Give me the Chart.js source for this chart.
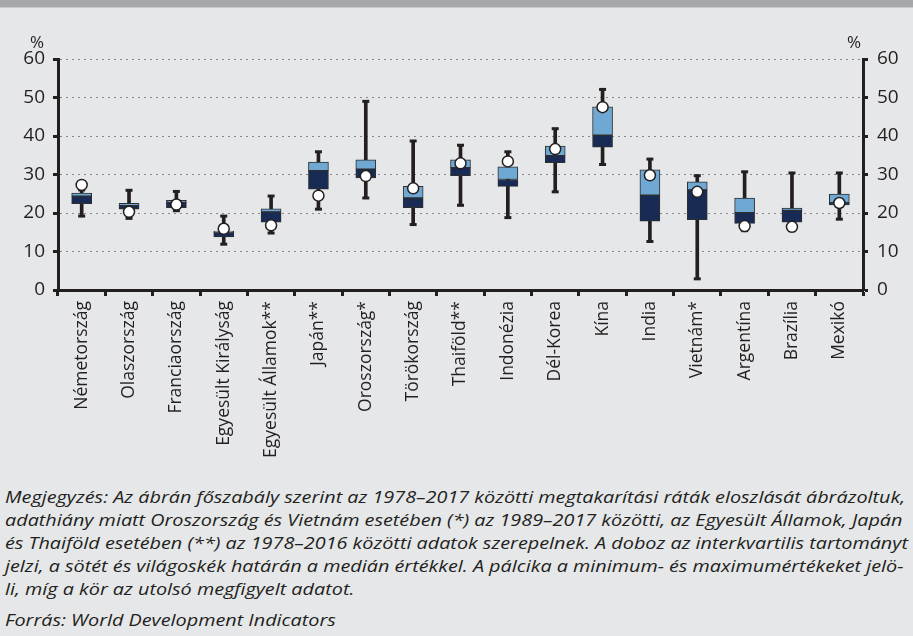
<!DOCTYPE html>
<html lang="hu">
<head>
    <meta charset="UTF-8">
    <title>Megtakarítási ráták eloszlása</title>
    <script src="https://cdn.jsdelivr.net/npm/chart.js@4.4.1/dist/chart.umd.min.js"></script>
    <style>
        * {
            margin: 0;
            padding: 0;
            box-sizing: border-box;
        }

        body {
            width: 913px;
            height: 636px;
            overflow: hidden;
            background-color: #e6e7e9;
            color: #231f20;
            font-family: 'Open Sans', sans-serif;
        }

        .top-bar {
            height: 8px;
            background-color: #a6a8ab;
            border-bottom: 1px solid #c9cacc;
        }

        .chart-box {
            position: relative;
            width: 913px;
            height: 462px;
        }

        .note {
            padding-left: 5px;
            margin-top: 15px;
            font-style: italic;
            font-size: 16.5px;
            line-height: 23px;
            white-space: nowrap;
            transform: scaleX(1.2);
            transform-origin: 5px 0;
        }

        .source {
            margin-top: 8px;
        }
    </style>
</head>
<body>
    <div class="top-bar"></div>
    <div class="chart-box">
        <canvas id="boxChart"></canvas>
    </div>
    <div class="note">
        <div>Megjegyzés: Az ábrán főszabály szerint az 1978–2017 közötti megtakarítási ráták eloszlását ábrázoltuk,<br>
        adathiány miatt Oroszország és Vietnám esetében (*) az 1989–2017 közötti, az Egyesült Államok, Japán<br>
        és Thaiföld esetében (**) az 1978–2016 közötti adatok szerepelnek. A doboz az interkvartilis tartományt<br>
        jelzi, a sötét és világoskék határán a medián értékkel. A pálcika a minimum- és maximumértékeket jelö-<br>
        li, míg a kör az utolsó megfigyelt adatot.</div>
        <div class="source">Forrás: World Development Indicators</div>
    </div>

    <script>
        // Data
        const categories = ['Németország', 'Olaszország', 'Franciaország', 'Egyesült Királyság',
            'Egyesült Államok**', 'Japán**', 'Oroszország*', 'Törökország', 'Thaiföld**',
            'Indonézia', 'Dél-Korea', 'Kína', 'India', 'Vietnám*', 'Argentína', 'Brazília', 'Mexikó'];
        const minVals    = [19.2, 18.6, 20.6, 11.9, 14.8, 21.0, 23.9, 17.0, 22.0, 18.8, 25.5, 32.6, 12.6, 2.9, 15.4, 15.4, 18.4];
        const q1Vals     = [22.4, 21.0, 21.4, 13.8, 17.6, 26.2, 29.1, 21.4, 29.7, 26.9, 33.1, 37.1, 17.9, 18.3, 17.3, 17.6, 22.1];
        const medianVals = [24.4, 21.9, 22.8, 14.9, 20.3, 31.0, 31.4, 23.9, 31.8, 28.7, 34.9, 40.2, 24.6, 26.0, 20.1, 20.7, 22.7];
        const q3Vals     = [25.2, 22.5, 23.3, 15.3, 21.1, 33.2, 33.8, 26.9, 33.8, 32.0, 37.4, 47.6, 31.2, 28.1, 23.9, 21.3, 24.9];
        const maxVals    = [26.0, 25.9, 25.6, 19.2, 24.4, 35.9, 49.0, 38.7, 37.6, 35.9, 41.9, 52.1, 34.0, 29.7, 30.7, 30.4, 30.4];
        const lastVals   = [27.3, 20.3, 22.2, 15.9, 16.8, 24.5, 29.6, 26.4, 32.9, 33.4, 36.6, 47.5, 29.8, 25.5, 16.6, 16.4, 22.6];
        const yTicks = [0, 10, 20, 30, 40, 50, 60];

        const ink = '#231f20';
        const darkBlue = '#172b55';
        const lightBlue = '#6ea8d3';

        // "%" unit labels above both axes
        const unitLabels = {
            id: 'unitLabels',
            afterDraw(chart) {
                const { ctx, chartArea } = chart;
                ctx.save();
                ctx.fillStyle = ink;
                ctx.font = '17px "Open Sans"';
                ctx.textAlign = 'center';
                ctx.textBaseline = 'middle';
                ctx.fillText('%', chartArea.left - 21, chartArea.top - 16);
                ctx.fillText('%', chartArea.right - 9, chartArea.top - 16);
                ctx.restore();
            }
        };

        const tickFont = { family: 'Open Sans', size: 19 };

        new Chart(document.getElementById('boxChart'), {
            type: 'bar',
            data: {
                labels: categories,
                datasets: [
                    {
                        // last observed value
                        type: 'line',
                        data: lastVals,
                        showLine: false,
                        pointStyle: 'circle',
                        pointRadius: 5.5,
                        pointBackgroundColor: '#ffffff',
                        pointBorderColor: ink,
                        pointBorderWidth: 1.5,
                        order: 0
                    },
                    {
                        type: 'bar',
                        data: categories.map((c, i) => [q1Vals[i], medianVals[i]]),
                        backgroundColor: darkBlue,
                        borderColor: '#2e2e30',
                        borderWidth: 1,
                        borderSkipped: false,
                        barThickness: 20,
                        order: 2
                    },
                    {
                        type: 'bar',
                        data: categories.map((c, i) => [medianVals[i], q3Vals[i]]),
                        backgroundColor: lightBlue,
                        borderColor: '#2e2e30',
                        borderWidth: 1,
                        borderSkipped: false,
                        barThickness: 20,
                        order: 2
                    },
                    {
                        // whisker caps
                        type: 'line',
                        data: maxVals,
                        showLine: false,
                        pointStyle: 'line',
                        pointRadius: 3.5,
                        pointBorderColor: ink,
                        pointBorderWidth: 3,
                        order: 4
                    },
                    {
                        type: 'line',
                        data: minVals,
                        showLine: false,
                        pointStyle: 'line',
                        pointRadius: 3.5,
                        pointBorderColor: ink,
                        pointBorderWidth: 3,
                        order: 4
                    },
                    {
                        // whisker min-max
                        type: 'bar',
                        data: categories.map((c, i) => [minVals[i], maxVals[i]]),
                        backgroundColor: ink,
                        borderWidth: 0,
                        barThickness: 3,
                        order: 5
                    }
                ]
            },
            options: {
                responsive: true,
                maintainAspectRatio: false,
                animation: false,
                layout: { padding: { top: 51, left: 0, right: 0, bottom: 0 } },
                plugins: {
                    legend: { display: false },
                    tooltip: { enabled: false }
                },
                scales: {
                    x: {
                        stacked: true,
                        offset: true,
                        afterFit(scale) { scale.height = 180; },
                        grid: {
                            offset: true,
                            drawOnChartArea: false,
                            tickLength: 6,
                            tickColor: ink,
                            tickWidth: 3
                        },
                        border: { color: ink, width: 3 },
                        ticks: {
                            autoSkip: false,
                            minRotation: 90,
                            maxRotation: 90,
                            padding: 5,
                            color: ink,
                            font: { family: 'Open Sans', size: 17.5 }
                        }
                    },
                    y: {
                        position: 'left',
                        min: 0,
                        max: 60,
                        afterFit(scale) { scale.width = 58; },
                        afterBuildTicks(scale) { scale.ticks = yTicks.map(v => ({ value: v })); },
                        grid: {
                            color: '#85878a',
                            lineWidth: 1,
                            tickLength: 5,
                            tickColor: ink,
                            tickWidth: 3,
                            tickBorderDash: [1, 0]
                        },
                        border: { color: ink, width: 3, dash: [2, 4] },
                        ticks: { padding: 8, color: ink, font: tickFont }
                    },
                    y2: {
                        position: 'right',
                        min: 0,
                        max: 60,
                        afterFit(scale) { scale.width = 50; },
                        afterBuildTicks(scale) { scale.ticks = yTicks.map(v => ({ value: v })); },
                        grid: {
                            drawOnChartArea: false,
                            tickLength: 5,
                            tickColor: ink,
                            tickWidth: 3
                        },
                        border: { color: ink, width: 3 },
                        ticks: { padding: 9, color: ink, font: tickFont }
                    }
                }
            },
            plugins: [unitLabels]
        });
    </script>
</body>
</html>
